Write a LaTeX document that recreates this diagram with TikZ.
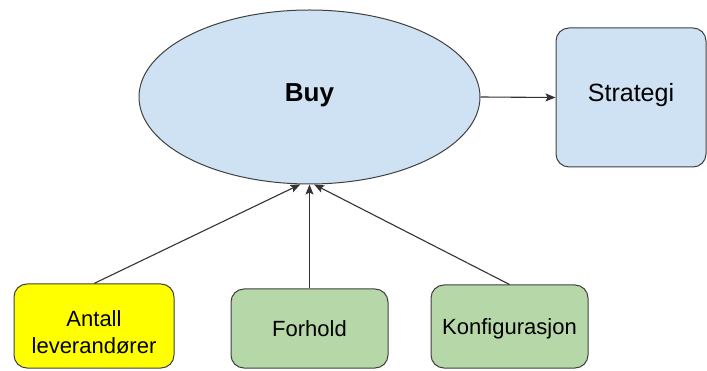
\documentclass[tikz,border=0pt]{standalone}
\usepackage{fontspec}
\setmainfont{Liberation Sans}
\usetikzlibrary{shapes.geometric,arrows.meta}
\definecolor{paleblue}{HTML}{CFE2F3}
\definecolor{palegreen}{HTML}{B6D7A8}
\definecolor{brightyellow}{HTML}{FFFF00}
\definecolor{edgegray}{HTML}{404040}
\definecolor{linegray}{HTML}{333333}
\tikzset{
  shapeline/.style={draw=edgegray, line width=1pt},
  bigoval/.style={shapeline, ellipse, fill=paleblue, inner sep=0pt},
  roundbox/.style={shapeline, rectangle, rounded corners=13pt, inner sep=0pt, align=center},
  link/.style={draw=linegray, line width=1.1pt, -{Stealth[length=10pt,width=8pt,inset=2pt]}},
}
\begin{document}
\begin{tikzpicture}[x=1pt,y=-1pt]
  \useasboundingbox (0,0) rectangle (707,371);

  % central goal and its strategy
  \node[bigoval, minimum width=341pt, minimum height=174pt,
        font=\fontsize{26}{30}\selectfont\bfseries,
        text height=19pt, text depth=10pt] (buy) at (309.5,97) {Buy};
  \node[roundbox, fill=paleblue, minimum width=150pt, minimum height=139pt,
        font=\fontsize{25}{29}\selectfont,
        text height=18pt, text depth=10pt] (strat) at (631,97.5) {Strategi};

  % contributing factors
  \node[roundbox, fill=brightyellow, minimum width=160pt, minimum height=84pt,
        font=\fontsize{22}{28}\selectfont,
        text height=56pt, text depth=0pt] (antall) at (94,326) {Antall\\leverandører};
  \node[roundbox, fill=palegreen, minimum width=157pt, minimum height=79pt,
        font=\fontsize{22}{28}\selectfont,
        text height=16pt, text depth=0pt] (forhold) at (309.5,328.5) {Forhold};
  \node[roundbox, fill=palegreen, minimum width=157pt, minimum height=83pt,
        font=\fontsize{22}{28}\selectfont,
        text height=16pt, text depth=0pt] (konf) at (509.5,326.5) {Konfigurasjon};

  % connectors
  \draw[link] (buy.east) -- (strat.west);
  \draw[link] (antall.north) -- (buy.264);
  \draw[link] (forhold.north) -- (buy.south);
  \draw[link] (konf.north) -- (buy.273);
\end{tikzpicture}
\end{document}
